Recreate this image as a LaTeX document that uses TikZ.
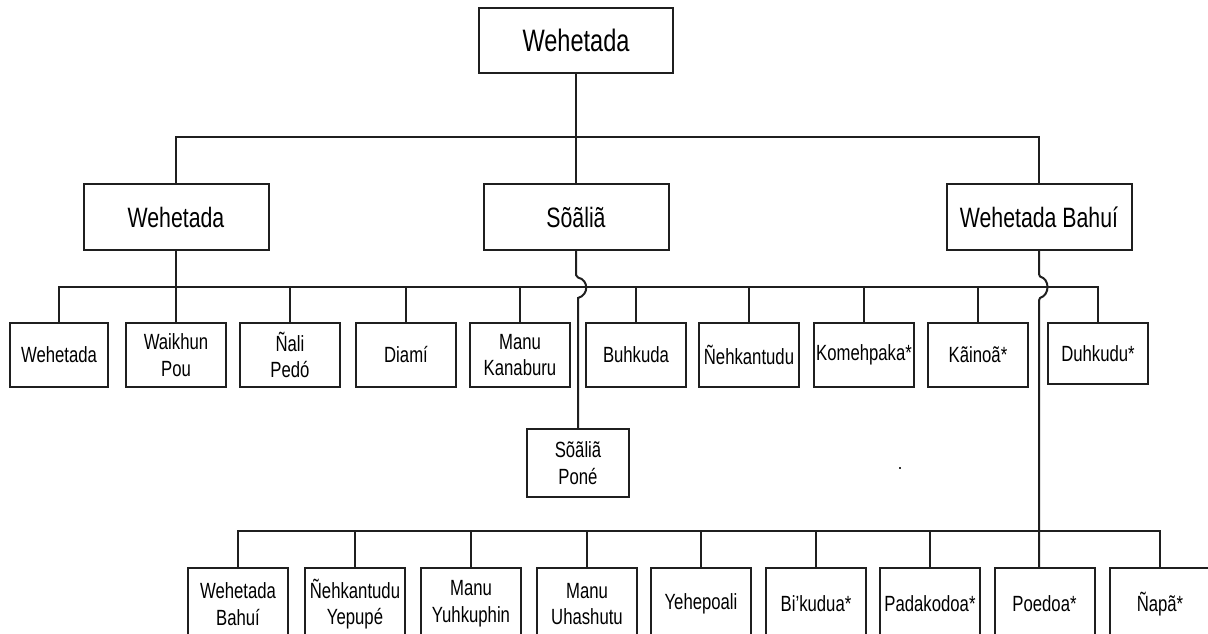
\documentclass[tikz,border=0pt]{standalone}
\usepackage{fontspec}
\setmainfont{Liberation Sans}[FakeStretch=0.76]
\begin{document}
\begin{tikzpicture}[x=0.75pt,y=-0.75pt,
  line/.style={draw=black!88,line width=1.5pt},
  rootbox/.style={line,fill=white,inner sep=0pt,minimum width=145.5pt,minimum height=48.75pt,font=\fontsize{23.25}{28}\selectfont},
  midbox/.style={line,fill=white,inner sep=0pt,minimum width=138.75pt,minimum height=49.5pt,font=\fontsize{21}{25}\selectfont},
  leafbox/.style={line,fill=white,inner sep=0pt,minimum width=75pt,minimum height=48pt,align=center,font=\fontsize{16.5}{20}\selectfont},
  lowbox/.style={leafbox,minimum height=54pt}]
\useasboundingbox (0,0) rectangle (1208,634);
\clip (0,0) rectangle (1208,634);
% buses
\coordinate (j1) at (576,137);
\coordinate (b2) at (0,287);
\coordinate (b3) at (0,531);
% nodes
\node[rootbox] (root) at (576,40.5) {Wehetada};
\node[midbox] (w1) at (176,217) {Wehetada};
\node[midbox] (s) at (576,217) {Sõãliã};
\node[midbox] (wb) at (1039,217) {Wehetada Bahuí};

\node[leafbox,minimum width=73.5pt] (l1) at (59,355) {Wehetada};
\node[leafbox] (l2) at (176,355) {Waikhun\\Pou};
\node[leafbox] (l3) at (290,355) {Ñali\\Pedó};
\node[leafbox] (l4) at (406,355) {Diamí};
\node[leafbox] (l5) at (520,355) {Manu\\Kanaburu};
\node[leafbox] (l6) at (636,355) {Buhkuda};
\node[leafbox] (l7) at (749,355) {Ñehkantudu};
\node[leafbox] (l8) at (864,355) {Komehpaka*};
\node[leafbox] (l9) at (978,355) {Kãinoã*};
\node[leafbox,minimum height=46pt] (l10) at (1098,353.5) {Duhkudu*};

\node[leafbox,minimum width=76.5pt,minimum height=51pt] (sp) at (578,463) {Sõãliã\\Poné};

\node[lowbox] (m1) at (238,604) {Wehetada\\Bahuí};
\node[lowbox] (m2) at (355,604) {Ñehkantudu\\Yepupé};
\node[lowbox] (m3) at (471,604) {Manu\\Yuhkuphin};
\node[lowbox] (m4) at (587,604) {Manu\\Uhashutu};
\node[lowbox] (m5) at (701,604) {Yehepoali};
\node[lowbox] (m6) at (816,604) {Bi'kudua*};
\node[lowbox] (m7) at (930,604) {Padakodoa*};
\node[lowbox] (m8) at (1044.5,604) {Poedoa*};
\node[lowbox] (m9) at (1160,604) {Ñapã*};

% level 1 -> level 2
\draw[line] (root.south) -- (s.north);
\draw[line] (w1.north) |- (j1) -| (wb.north);

% level 3 bus (from Wehetada)
\draw[line] (w1.south) -- (w1.south |- b2);
\draw[line] (l1.north) -- (l1.north |- b2) -- (l10.north |- b2) -- (l10.north);
\foreach \n in {l2,l3,l4,l5,l6,l7,l8,l9}
  \draw[line] (\n.north) -- (\n.north |- b2);

% Sõãliã line hopping over the bus
\draw[line] (s.south) -- (576,275) -- (578,277.5)
  .. controls (589,280) and (589,295) .. (578,298) -- (578,301) -- (sp.north);

% Wehetada Bahuí line hopping over the bus
\draw[line] (wb.south) -- (1039,274) -- (1040,276.5)
  .. controls (1050,279) and (1050,295) .. (1040,298) -- (1039,300.5)
  -- (m8.north -| wb.south);

% bottom bus
\draw[line] (m1.north) -- (m1.north |- b3) -- (m9.north |- b3) -- (m9.north);
\foreach \n in {m2,m3,m4,m5,m6,m7}
  \draw[line] (\n.north) -- (\n.north |- b3);

% stray dot
\fill[black!80] (899,467) rectangle (901,469);
\end{tikzpicture}
\end{document}
